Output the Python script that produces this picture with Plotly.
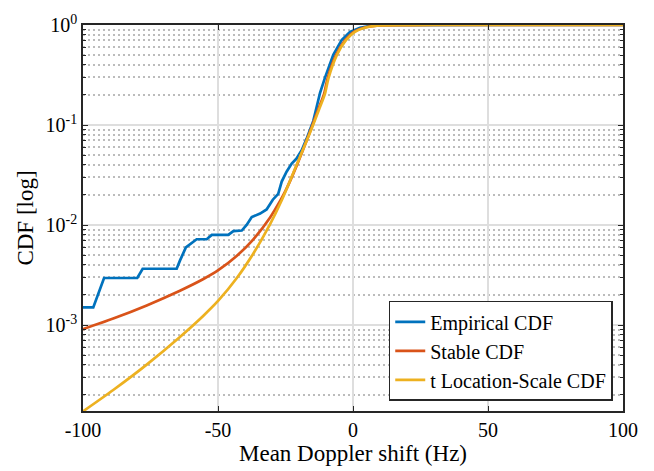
import plotly.graph_objects as go

# ---- data ----
emp_x = [-100, -96.2, -92.2, -79.9, -77.9, -65.3, -64.1, -61.9, -57.9, -54.2, -52.3, -46.2,
         -44.3, -41.2, -39.4, -37.5, -34.4, -32.0, -29.7, -27.7, -26.4, -24.6, -22.7, -20.9,
         -19.0, -17.2, -14.7, -12.2, -10.4, -7.3, -4.2, -1.1, 2.6, 7.5, 15, 25, 100]
emp_y = [1.5e-3, 1.5e-3, 2.95e-3, 2.95e-3, 3.65e-3, 3.65e-3, 4.4e-3, 5.97e-3, 7.2e-3, 7.2e-3,
         7.96e-3, 7.96e-3, 8.7e-3, 8.8e-3, 1.0e-2, 1.2e-2, 1.3e-2, 1.43e-2, 1.79e-2, 2.05e-2,
         2.72e-2, 3.41e-2, 4.12e-2, 4.62e-2, 5.58e-2, 7.27e-2, 0.110, 0.21, 0.296, 0.502,
         0.706, 0.855, 0.94, 0.99, 0.999, 1.0, 1.0]

stable_x = [-100, -88.8, -76.4, -64.1, -55.4, -49.9, -43.1, -36.9, -30.7, -27.0,
            -25.0, -20.9, -15.9, -12.8, -10.7, -9.4, -6.3, -2.9, 0.3, 4.0, 9.6, 20, 30, 100]
stable_y = [9.1e-4, 1.16e-3, 1.57e-3, 2.2e-3, 2.88e-3, 3.53e-3, 4.9e-3, 7.2e-3,
            1.19e-2, 1.74e-2, 2.19e-2, 3.9e-2, 0.086, 0.145, 0.205, 0.293, 0.50, 0.706, 0.855,
            0.94, 0.99, 0.999, 1.0, 1.0]

tls_x = [-100, -88.8, -76.4, -64.1, -55.4, -49.9, -43.1, -36.9, -30.7, -26.4, -20.9,
         -15.9, -12.5, -10.4, -9.1, -6.0, -2.6, 0.7, 4.4, 10.0, 20, 30, 100]
tls_y = [1.37e-4, 2.24e-4, 4.02e-4, 7.6e-4, 1.24e-3, 1.75e-3, 2.93e-3, 5.19e-3, 1.02e-2,
         1.77e-2, 3.98e-2, 0.084, 0.145, 0.205, 0.293, 0.50, 0.706, 0.855, 0.94, 0.99, 0.999,
         1.0, 1.0]

names = ["Empirical CDF", "Stable CDF", "t Location-Scale CDF"]
colors = ["#0072BD", "#D95319", "#EDB120"]

x_ticks = [-100, -50, 0, 50, 100]
x_ticktext = ["-100", "-50", "0", "50", "100"]
y_ticks = [1e-3, 1e-2, 1e-1, 1]
y_ticktext = ["10<sup>-3</sup>", "10<sup>-2</sup>", "10<sup>-1</sup>", "10<sup>0</sup>"]
y_minor = [m * 10.0 ** e for e in (-4, -3, -2, -1) for m in range(2, 10)]

FONT = "Liberation Serif"
AX = "#262626"

fig = go.Figure()
fig.add_trace(go.Scatter(x=emp_x, y=emp_y, mode="lines", name=names[0],
                         line=dict(color=colors[0], width=2.7)))
fig.add_trace(go.Scatter(x=stable_x, y=stable_y, mode="lines", name=names[1],
                         line=dict(color=colors[1], width=2.7, shape="spline", smoothing=0.8)))
fig.add_trace(go.Scatter(x=tls_x, y=tls_y, mode="lines", name=names[2],
                         line=dict(color=colors[2], width=2.7, shape="spline", smoothing=0.8)))

fig.update_layout(
    width=654, height=471,
    margin=dict(l=83, r=31, t=21, b=59),
    paper_bgcolor="white", plot_bgcolor="white",
    font=dict(family=FONT, size=20, color="black"),
    showlegend=True,
    legend=dict(x=0.981, y=0.026, xanchor="right", yanchor="bottom",
                bgcolor="white", bordercolor=AX, borderwidth=1.5,
                font=dict(family=FONT, size=20, color="black"),
                tracegroupgap=0),
)
fig.update_xaxes(
    range=[-100, 100], tickmode="array", tickvals=x_ticks, ticktext=x_ticktext,
    ticks="inside", ticklen=5, tickwidth=1, tickcolor=AX,
    showline=True, linecolor=AX, linewidth=1.5, mirror="allticks",
    showgrid=True, gridcolor="#dedede", gridwidth=1.5, zeroline=False,
    title=dict(text="Mean Doppler shift (Hz)", font=dict(family=FONT, size=23), standoff=2),
    tickfont=dict(family=FONT, size=20, color="black"),
)
fig.update_yaxes(
    type="log", range=[-3.86, 0.0], tickmode="array", tickvals=y_ticks, ticktext=y_ticktext,
    ticks="inside", ticklen=5, tickwidth=1, tickcolor=AX,
    showline=True, linecolor=AX, linewidth=1.5, mirror="allticks",
    showgrid=True, gridcolor="#dedede", gridwidth=1.5, zeroline=False,
    minor=dict(tickmode="array", tickvals=y_minor, ticks="inside", ticklen=3,
               tickcolor=AX, tickwidth=1, showgrid=True, gridcolor="#bcbcbc",
               griddash="2px,3px", gridwidth=1.5),
    title=dict(text="CDF [log]", font=dict(family=FONT, size=23), standoff=6),
    tickfont=dict(family=FONT, size=20, color="black"),
)

fig.write_html("out.html")
